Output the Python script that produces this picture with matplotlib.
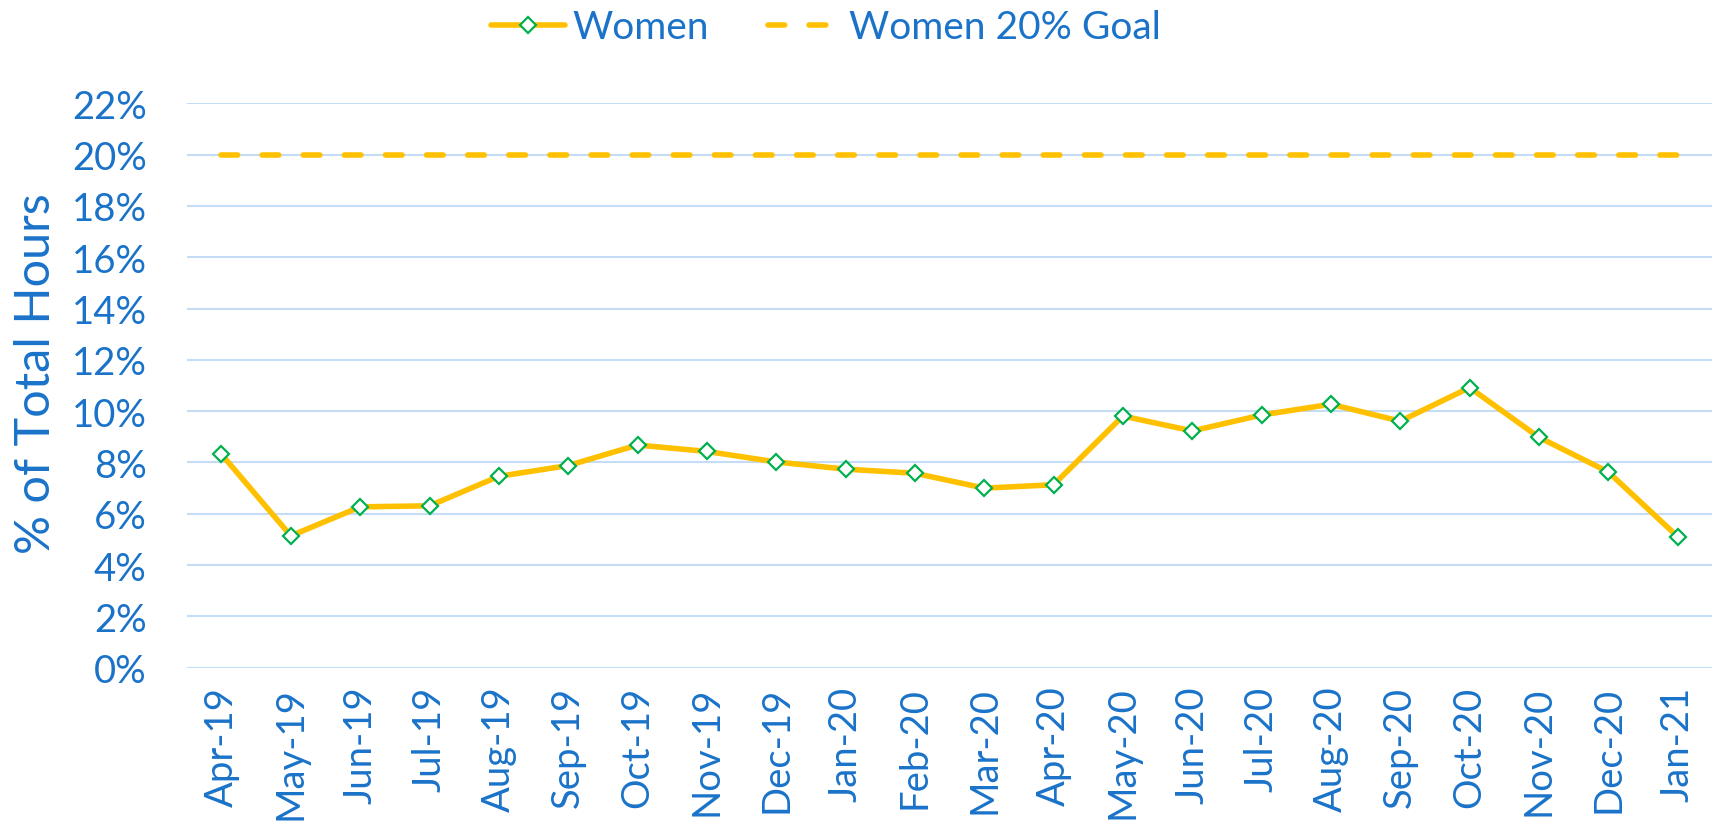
import matplotlib
matplotlib.use("Agg")
import matplotlib.pyplot as plt
from matplotlib.ticker import PercentFormatter

# Data
months = ["Apr-19", "May-19", "Jun-19", "Jul-19", "Aug-19", "Sep-19", "Oct-19",
          "Nov-19", "Dec-19", "Jan-20", "Feb-20", "Mar-20", "Apr-20", "May-20",
          "Jun-20", "Jul-20", "Aug-20", "Sep-20", "Oct-20", "Nov-20", "Dec-20",
          "Jan-21"]
women = [8.32, 5.14, 6.27, 6.31, 7.46, 7.88, 8.68, 8.43, 8.02, 7.74, 7.58,
         7.00, 7.13, 9.81, 9.23, 9.85, 10.27, 9.61, 10.92, 8.98, 7.63, 5.11]
goal = [20.0] * len(months)
yticks = [0, 2, 4, 6, 8, 10, 12, 14, 16, 18, 20, 22]

text_blue = "#1a73c9"
gold = "#FFC000"
green = "#00B050"
grid_blue = "#C5DCF5"

plt.rcParams["font.family"] = ["Lato", "DejaVu Sans"]

fig = plt.figure(figsize=(17.14, 8.28), dpi=100)
ax = fig.add_axes([0.109, 0.1924, 0.89, 0.6816])

x = list(range(len(months)))
ax.plot(x, women, color=gold, linewidth=4.0, marker="D", markersize=8.5,
        markerfacecolor="white", markeredgecolor=green, markeredgewidth=1.6,
        solid_joinstyle="round", solid_capstyle="round",
        label="Women", zorder=3)
ax.plot(x, goal, color=gold, linewidth=4.0, linestyle=(0, (3, 4.4)),
        dash_capstyle="round", label="Women 20% Goal", zorder=3)

ax.set_xlim(-0.5, len(months) - 0.5)
ax.set_ylim(0, 22)
ax.set_yticks(yticks)
ax.yaxis.set_major_formatter(PercentFormatter(decimals=0))
ax.set_xticks(x)
ax.set_xticklabels(months, rotation=90)

ax.grid(axis="y", color=grid_blue, linewidth=1.5)
ax.set_axisbelow(True)
for s in ax.spines.values():
    s.set_visible(False)
ax.tick_params(axis="both", length=0, labelsize=27.5, colors=text_blue)
ax.tick_params(axis="x", pad=13)
ax.tick_params(axis="y", pad=29)

ax.set_ylabel("% of Total Hours", fontsize=35, color=text_blue,
              va="center", ha="center")
ax.yaxis.set_label_coords(-0.099, 0.522)

fig.legend(loc="upper center", bbox_to_anchor=(0.482, 1.03), ncol=2,
           frameon=False, fontsize=28, labelcolor=text_blue,
           handlelength=1.9, columnspacing=1.5, handletextpad=0.2)

fig.savefig("out.png", dpi=100)
